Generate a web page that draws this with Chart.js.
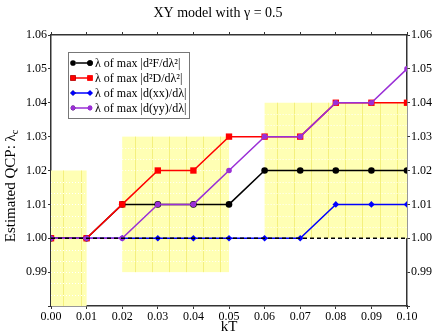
<!DOCTYPE html>
<html>
<head>
<meta charset="utf-8">
<script src="https://cdn.jsdelivr.net/npm/chart.js@4/dist/chart.umd.min.js"></script>
<style>
  body { margin: 0; background: #fff; }
</style>
</head>
<body>
<canvas id="c" width="436" height="336"></canvas>
<script>
// data
var kT = [0.00, 0.01, 0.02, 0.03, 0.04, 0.05, 0.06, 0.07, 0.08, 0.09, 0.10];
var lamF  = [1.00, 1.00, 1.01, 1.01, 1.01, 1.01, 1.02, 1.02, 1.02, 1.02, 1.02];
var lamD  = [1.00, 1.00, 1.01, 1.02, 1.02, 1.03, 1.03, 1.03, 1.04, 1.04, 1.04];
var lamXX = [1.00, 1.00, 1.00, 1.00, 1.00, 1.00, 1.00, 1.00, 1.01, 1.01, 1.01];
var lamYY = [1.00, 1.00, 1.00, 1.01, 1.01, 1.02, 1.03, 1.03, 1.04, 1.04, 1.05];
var seriesLabels = ["λ of max |d²F/dλ²|", "λ of max |d²D/dλ²|", "λ of max |d(xx)/dλ|", "λ of max |d(yy)/dλ|"];
var refLevel = 1.00;

// shaded yellow windows (kT from/to, λ from/to)
var boxFrom = [0.00, 0.02, 0.06];
var boxTo   = [0.01, 0.05, 0.10];
var boxLow  = [0.98, 0.99, 1.00];
var boxHigh = [1.02, 1.03, 1.04];

var FONT = "'Liberation Serif', 'DejaVu Serif', serif";

function pts(ys) {
  var out = [];
  for (let i = 0; i < kT.length; i++) out.push({x: kT[i], y: ys[i]});
  return out;
}

var boxPlugin = {
  id: "boxes",
  beforeDatasetsDraw: function(chart) {
    var ctx = chart.ctx, xs = chart.scales.x, ys = chart.scales.y, a = chart.chartArea;
    ctx.save();
    ctx.beginPath();
    ctx.rect(a.left, a.top, a.right - a.left, a.bottom - a.top);
    ctx.clip();
    for (let i = 0; i < boxFrom.length; i++) {
      var l = xs.getPixelForValue(boxFrom[i]), r = xs.getPixelForValue(boxTo[i]);
      var t = ys.getPixelForValue(boxHigh[i]), b = ys.getPixelForValue(boxLow[i]);
      ctx.fillStyle = "#ffffb4";
      ctx.fillRect(l, t, r - l, b - t);
      // faint inner grid
      ctx.strokeStyle = "#f4f07e";
      ctx.lineWidth = 1;
      ctx.setLineDash([]);
      for (let v = boxFrom[i] + 0.0035; v < boxTo[i]; v += 0.0048) {
        var px = Math.round(xs.getPixelForValue(v)) + 0.5;
        ctx.beginPath(); ctx.moveTo(px, t); ctx.lineTo(px, b); ctx.stroke();
      }
      ctx.strokeStyle = "#ffffff";
      ctx.setLineDash([1, 2]);
      for (let v = boxLow[i] + 0.01 / 3; v < boxHigh[i] - 0.001; v += 0.01 / 3) {
        var py = Math.round(ys.getPixelForValue(v)) + 0.5;
        ctx.beginPath(); ctx.moveTo(l, py); ctx.lineTo(r, py); ctx.stroke();
      }
    }
    ctx.restore();
  }
};

var extrasPlugin = {
  id: "extras",
  afterDraw: function(chart) {
    var ctx = chart.ctx, a = chart.chartArea;
    // y axis title with subscript
    ctx.save();
    ctx.fillStyle = "#000";
    ctx.translate(15, 186);
    ctx.rotate(-Math.PI / 2);
    ctx.font = "15px " + FONT;
    var main = "Estimated QCP: λ";
    var w1 = ctx.measureText(main).width;
    ctx.font = "10px " + FONT;
    var w2 = ctx.measureText("c").width;
    var x0 = -(w1 + w2) / 2;
    ctx.font = "15px " + FONT;
    ctx.textBaseline = "alphabetic";
    ctx.fillText(main, x0, 0);
    ctx.font = "10px " + FONT;
    ctx.fillText("c", x0 + w1, 3);
    ctx.restore();

    // legend box
    var bx = a.left + 17, by = a.top + 17, bw = 121, bh = 66;
    ctx.save();
    ctx.fillStyle = "#fff";
    ctx.fillRect(bx, by, bw, bh);
    ctx.strokeStyle = "#777";
    ctx.lineWidth = 1;
    ctx.strokeRect(bx + 0.5, by + 0.5, bw, bh);
    var dsets = chart.data.datasets;
    for (let i = 0; i < 4; i++) {
      var ds = dsets[i];
      var cy = by + 11 + i * 15;
      ctx.strokeStyle = ds.borderColor;
      ctx.lineWidth = 1.5;
      ctx.setLineDash([]);
      ctx.beginPath(); ctx.moveTo(bx + 5, cy); ctx.lineTo(bx + 22, cy); ctx.stroke();
      [bx + 5, bx + 22].forEach(function(px) {
        Chart.helpers.drawPoint(ctx, {pointStyle: ds.pointStyle, radius: ds.pointRadius * 0.85, rotation: 0, borderWidth: 0}, px, cy);
        ctx.fillStyle = ds.pointBackgroundColor;
        ctx.fill();
      });
      ctx.fillStyle = "#000";
      ctx.font = "12px " + FONT;
      ctx.textBaseline = "middle";
      ctx.fillText(ds.label, bx + 27, cy + 1);
    }
    ctx.restore();
  }
};

function mkSet(label, ys, color, style, radius, order) {
  return {
    label: label,
    data: pts(ys),
    borderColor: color,
    backgroundColor: color,
    pointBackgroundColor: color,
    pointBorderColor: color,
    pointStyle: style,
    pointRadius: radius,
    borderWidth: 1.5,
    pointBorderWidth: 0,
    order: order
  };
}

var fmt2 = function(v) {
  if (Math.abs(v - 0.98) < 1e-6) return "";
  return Number(v).toFixed(2);
};

var chart = new Chart(document.getElementById("c"), {
  type: "line",
  data: {
    datasets: [
      mkSet(seriesLabels[0], lamF, "#000000", "circle", 3.3, 5),
      mkSet(seriesLabels[1], lamD, "#ff0000", "rect", 4.5, 4),
      mkSet(seriesLabels[2], lamXX, "#0000ff", "rectRot", 3.3, 3),
      mkSet(seriesLabels[3], lamYY, "#9a2fd6", "circle", 2.8, 2),
      {
        label: "ref",
        data: [{x: kT[0], y: refLevel}, {x: kT[kT.length - 1], y: refLevel}],
        borderColor: "#000",
        borderWidth: 1.5,
        borderDash: [4, 3],
        pointRadius: 0,
        order: 1
      }
    ]
  },
  options: {
    responsive: false,
    animation: false,
    layout: { padding: 0 },
    plugins: {
      legend: { display: false },
      tooltip: { enabled: false },
      title: {
        display: true,
        text: "XY model with γ = 0.5",
        color: "#000",
        font: { family: FONT, size: 14, weight: "normal" },
        padding: { top: 5, bottom: 4 }
      }
    },
    scales: {
      x: {
        type: "linear",
        position: "bottom",
        min: 0, max: 0.1,
        afterFit: function(s) { s.height = 30; },
        border: { display: true, color: "#333", width: 1.5 },
        grid: { drawOnChartArea: false, drawTicks: true, tickLength: 3, color: "#333" },
        ticks: { stepSize: 0.01, padding: 1, color: "#000", font: { family: FONT, size: 12 },
                 maxRotation: 0, autoSkip: false, callback: function(v) { return Number(v).toFixed(2); } },
        title: { display: true, text: "kT", color: "#000", font: { family: FONT, size: 15 }, padding: { top: 0, bottom: 0 } }
      },
      x2: {
        type: "linear",
        position: "top",
        min: 0, max: 0.1,
        afterFit: function(s) { s.height = 9.2; },
        border: { display: true, color: "#333", width: 1.5 },
        grid: { drawOnChartArea: false, drawTicks: true, tickLength: 3, color: "#333" },
        ticks: { stepSize: 0.01, display: false }
      },
      y: {
        type: "linear",
        position: "left",
        min: 0.98, max: 1.06,
        afterFit: function(s) { s.width = 51; },
        border: { display: true, color: "#333", width: 1.5 },
        grid: { drawOnChartArea: false, drawTicks: true, tickLength: 3, color: "#333" },
        ticks: { stepSize: 0.01, padding: 1, color: "#000", font: { family: FONT, size: 12 }, callback: fmt2 }
      },
      y2: {
        type: "linear",
        position: "right",
        min: 0.98, max: 1.06,
        afterFit: function(s) { s.width = 29; },
        border: { display: true, color: "#333", width: 1.5 },
        grid: { drawOnChartArea: false, drawTicks: true, tickLength: 3, color: "#333" },
        ticks: { stepSize: 0.01, padding: 1, color: "#000", font: { family: FONT, size: 12 }, callback: fmt2 }
      }
    }
  },
  plugins: [boxPlugin, extrasPlugin]
});
</script>
</body>
</html>
